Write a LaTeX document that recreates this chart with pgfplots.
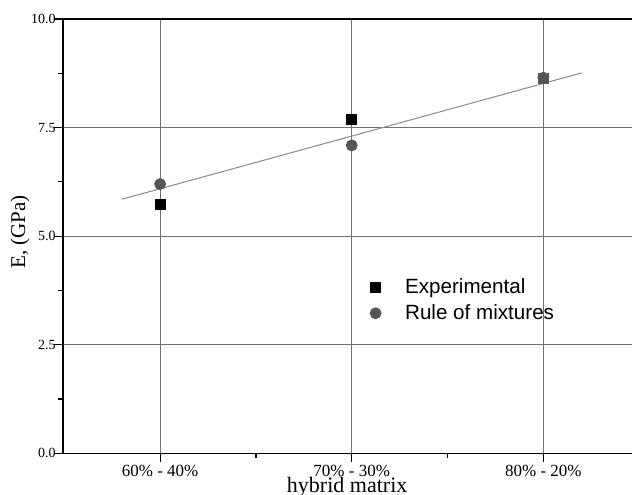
\documentclass[border=0pt]{standalone}
\usepackage{pgfplots}
\pgfplotsset{compat=1.18}
\usepackage{fontspec}
\setmainfont{Liberation Serif}
\newfontfamily\legendfont{Liberation Sans}

\definecolor{gridgray}{HTML}{707070}
\definecolor{fitgray}{HTML}{8A8A8A}
\definecolor{mixgray}{HTML}{555555}

\pgfplotstableread{
x  E
0  57.4
1  77.0
}\experimental
\pgfplotstableread{
x  E
2  86.3
}\experimentalhigh
\pgfplotstableread{
x  E
0  62.0
1  70.9
2  86.5
}\mixtures
\pgfplotstableread{
x     E
-0.2  58.5
2.2   87.6
}\fitline

\begin{document}
\begin{tikzpicture}
\path[use as bounding box, clip] (-31.5pt,-20.5pt) rectangle (284.25pt,226.5pt);
\begin{axis}[
  scale only axis,
  width=284.5pt, height=217pt,
  xmin=-0.5065, xmax=2.465,
  ymin=0, ymax=100,
  xtick={0,1,2},
  xticklabels={60\% - 40\%, 70\% - 30\%, 80\% - 20\%},
  minor xtick={0.5,1.5},
  ytick={0,25,50,75,100},
  yticklabels={0.0,2.5,5.0,7.5,10.0},
  minor ytick={12.5,37.5,62.5,87.5},
  xtick pos=left, ytick pos=left,
  tick align=outside,
  major tick length=4.5pt,
  minor tick length=2.5pt,
  every tick/.style={black, line width=0.6pt},
  axis line style={black, line width=0.8pt},
  grid=major,
  major grid style={gridgray, line width=0.5pt},
  xticklabel style={font=\fontsize{8.5}{10}\selectfont, inner sep=1pt},
  yticklabel style={font=\fontsize{7}{8}\selectfont, inner sep=0pt, xshift=1pt},
  xlabel={hybrid matrix},
  xlabel style={font=\fontsize{11}{13}\selectfont, at={(axis description cs:0.499,0)}, anchor=base, yshift=-19.5pt},
  ylabel={E, (GPa)},
  every axis y label/.style={font=\fontsize{10.5}{12}\selectfont,
    at={(axis description cs:0,0.51)}, xshift=-19pt, rotate=90, anchor=base},
  legend style={draw=none, fill=none, font=\legendfont\fontsize{10.3}{13}\selectfont,
    at={(axis description cs:0.535,0.3525)}, anchor=west,
    row sep=0pt, column sep=10pt, inner sep=1pt},
  legend cell align=left,
]
\addplot[fitgray, line width=0.5pt, forget plot] table[x=x, y=E] {\fitline};
\addplot[only marks, mark=square*, mark size=2.5pt, mark options={fill=black, draw=black}] table[x=x, y=E] {\experimental};
\addplot[only marks, mark=*, mark size=2.75pt, mark options={fill=mixgray, draw=mixgray}] table[x=x, y=E] {\mixtures};
\addplot[only marks, mark=square*, mark size=2.6pt, mark options={fill=mixgray, draw=mixgray}, forget plot] table[x=x, y=E] {\experimentalhigh};
\legend{Experimental, Rule of mixtures}
\end{axis}
\end{tikzpicture}
\end{document}
